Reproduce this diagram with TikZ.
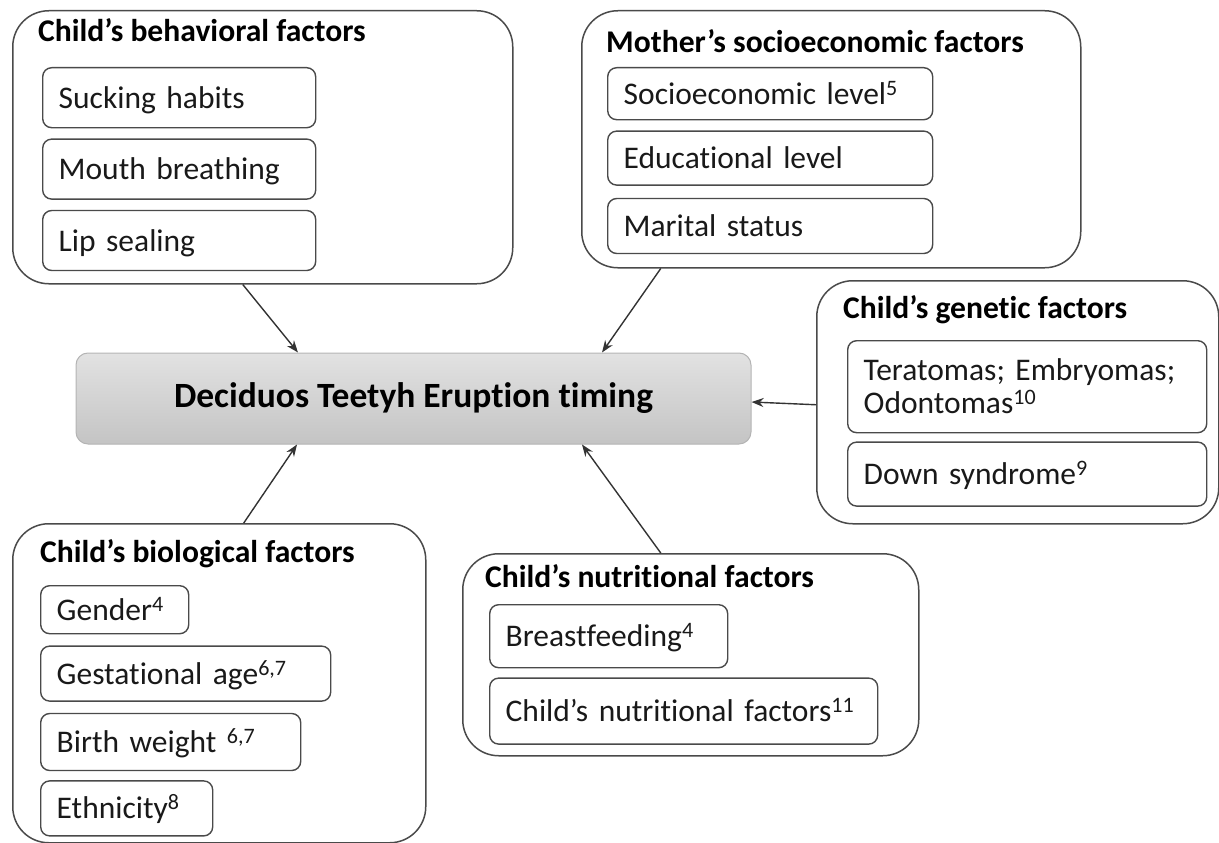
\documentclass[tikz,border=0pt]{standalone}
\usepackage{fontspec}
\setmainfont{Carlito}[Ligatures=NoCommon]
\usepackage{tikz}
\usetikzlibrary{positioning,arrows.meta}
\definecolor{edgegray}{HTML}{4A4A4A}
\definecolor{hubtop}{HTML}{E2E2E2}
\definecolor{hubbottom}{HTML}{C4C4C4}
\definecolor{hubedge}{HTML}{B4B4B4}
\newcommand{\itemsize}{\fontsize{31.5}{33}\selectfont}
\newcommand{\headsize}{\fontsize{31.6}{36}\selectfont\bfseries}
\newcommand{\hubsize}{\fontsize{35.5}{40}\selectfont\bfseries}

\begin{document}
\begin{tikzpicture}[x=1pt, y=-1pt,
group/.style={rectangle, draw=edgegray, line width=1.5pt, rounded corners=36pt, anchor=north west, inner sep=0pt},
head/.style={anchor=base west, inner sep=0pt, font=\headsize},
factor/.style={rectangle, draw=edgegray, line width=1.4pt, rounded corners=9pt, anchor=north west, align=left, inner xsep=16pt, inner ysep=0pt, text height=21pt, text depth=0pt, font=\itemsize, text=black!90},
hub/.style={rectangle, draw=hubedge, line width=1pt, rounded corners=12pt, top color=hubtop, bottom color=hubbottom, minimum width=675pt, minimum height=91pt, font=\hubsize},
link/.style={-{Stealth[length=12pt,width=9pt]}, draw=black!80, line width=1.4pt}
]
\useasboundingbox (0,0) rectangle (1219,843);

% centre
\node[hub] (hub) at (413.5,398.5) {Deciduos Teetyh Eruption timing};

% outer groups
\node[group, minimum width=500pt, minimum height=273pt] (behav) at (12,10) {};
\node[group, minimum width=499pt, minimum height=257pt] (mother) at (581,10) {};
\node[group, minimum width=402pt, minimum height=243pt] (genet) at (816,280) {};
\node[group, minimum width=413pt, minimum height=319pt] (bio) at (12,523) {};
\node[group, minimum width=456pt, minimum height=202pt] (nutri) at (462,553) {};

% headings
\node[head] (behavhead) at (38,42) {Child’s behavioral factors};
\node[head] (motherhead) at (606,53) {Mother’s socioeconomic factors};
\node[head] (genethead) at (843,318) {Child’s genetic factors};
\node[head] (biohead) at (40,562) {Child’s biological factors};
\node[head] (nutrihead) at (485,587) {Child’s nutritional factors};

% behavioral
\node[factor, text width=241pt, minimum height=60pt] (sucking) at (42,67) {Sucking habits};
\node[factor, text width=241pt, minimum height=60pt] (mouth) [below=10pt of sucking.south west, anchor=north west] {Mouth breathing};
\node[factor, text width=241pt, minimum height=60pt] (lip) [below=10pt of mouth.south west, anchor=north west] {Lip sealing};

% mother
\node[factor, text width=293pt, minimum height=52pt] (socio) at (607,67) {Socioeconomic level\textsuperscript{5}};
\node[factor, text width=293pt, minimum height=54pt] (educ) [below=10pt of socio.south west, anchor=north west] {Educational level};
\node[factor, text width=293pt, minimum height=55pt] (marital) [below=12pt of educ.south west, anchor=north west] {Marital status};

% genetic
\node[factor, text width=327pt, minimum height=92pt, text depth=33pt] (terato) at (847,340) {Teratomas; Embryomas;\\Odontomas\textsuperscript{10}};
\node[factor, text width=327pt, minimum height=64pt] (down) [below=8pt of terato.south west, anchor=north west] {Down syndrome\textsuperscript{9}};

% biological
\node[factor, text width=116pt, minimum height=48pt] (gender) at (40,585) {Gender\textsuperscript{4}};
\node[factor, text width=258pt, minimum height=55pt] (gestation) [below=11pt of gender.south west, anchor=north west] {Gestational age\textsuperscript{6,7}};
\node[factor, text width=228pt, minimum height=57pt] (birth) [below=11pt of gestation.south west, anchor=north west] {Birth weight \textsuperscript{6,7}};
\node[factor, text width=140pt, minimum height=55pt] (ethnic) [below=9pt of birth.south west, anchor=north west] {Ethnicity\textsuperscript{8}};

% nutritional
\node[factor, text width=206pt, minimum height=63pt] (breast) at (489,604) {Breastfeeding\textsuperscript{4}};
\node[factor, text width=356pt, minimum height=66pt] (childnutri) [below=9pt of breast.south west, anchor=north west] {Child’s nutritional factors\textsuperscript{11}};

% arrows
\draw[link] ([xshift=-20pt]behav.south) -- ([xshift=-115.5pt]hub.north);
\draw[link] ([xshift=-170.5pt]mother.south) -- ([xshift=188.5pt]hub.north);
\draw[link] ([yshift=-2.5pt]genet.west) -- ([yshift=-3.5pt]hub.east);
\draw[link] ([xshift=24.5pt]bio.north) -- ([xshift=-116.5pt]hub.south);
\draw[link] ([xshift=-30pt]nutri.north) -- ([xshift=168.5pt]hub.south);
\end{tikzpicture}
\end{document}
